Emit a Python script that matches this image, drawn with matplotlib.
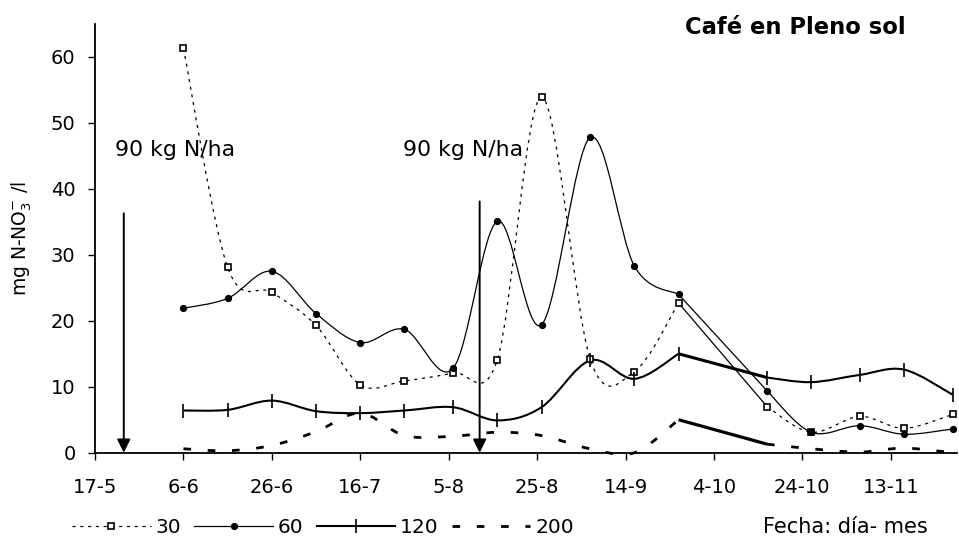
import numpy as np
import matplotlib
matplotlib.use('Agg')
import matplotlib.pyplot as plt
from matplotlib.path import Path
from matplotlib.patches import PathPatch
from matplotlib.lines import Line2D

plt.rcParams['font.family'] = ['DejaVu Sans']
plt.rcParams['lines.scale_dashes'] = False

# ---- data (x = days after 17 May) ----
sample_days = [20, 30, 40, 50, 60, 70, 81, 91, 101, 112, 122, 132, 152, 162, 173, 183, 194]
n30 = [61.3, 28.1, 24.3, 19.3, 10.3, 10.9, 12.1, 14.1, 53.9, 14.2, 12.3, 22.7, 7.0, 3.1, 5.5, 3.7, 5.8]
n60 = [21.9, 23.4, 27.5, 21.1, 16.7, 18.7, 12.8, 35.1, 19.4, 47.8, 28.3, 24.0, 9.4, 3.1, 4.1, 2.8, 3.6]
n120 = [6.4, 6.5, 7.9, 6.3, 6.0, 6.4, 6.9, 4.9, 6.9, 14.0, 11.2, 15.0, 11.4, 10.7, 11.8, 12.6, 8.8]
n200 = [0.6, 0.3, 1.1, 3.2, 6.0, 2.6, 2.5, 3.1, 2.6, 0.6, 0.0, 5.0, 1.3, 0.6, 0.1, 0.7, 0.0]
series_labels = ['30', '60', '120', '200']

tick_days = [0, 20, 40, 60, 80, 100, 120, 140, 160, 180]
tick_labels = ['17-5', '6-6', '26-6', '16-7', '5-8', '25-8', '14-9', '4-10', '24-10', '13-11']

fert_days = [6.5, 87]
fert_arrow_top = [36.3, 38.1]
fert_text = '90 kg N/ha'
fert_text_x = [4.5, 69.7]
fert_text_y = 45.9

# index split: smoothed part A, straight middle, smoothed part B
split_a = 11
split_b = 12


def smooth_path(xs, ys):
    pts = np.column_stack([xs, ys]).astype(float)
    n = len(pts)
    verts = [pts[0]]
    codes = [Path.MOVETO]
    for i in range(n - 1):
        p0 = pts[i - 1] if i > 0 else pts[i]
        p1 = pts[i]
        p2 = pts[i + 1]
        p3 = pts[i + 2] if i + 2 < n else pts[i + 1]
        c1 = p1 + (p2 - p0) / 6.0
        c2 = p2 - (p3 - p1) / 6.0
        verts += [c1, c2, p2]
        codes += [Path.CURVE4] * 3
    return Path(verts, codes)


fig = plt.figure(figsize=(9.59, 5.44), dpi=100)
ax = fig.add_axes([0.0991, 0.1678, 0.8989, 0.7881])


def draw_series(vals, style_ab, style_mid):
    x = np.array(sample_days, float)
    y = np.array(vals, float)
    for sl in (slice(0, split_a + 1), slice(split_b, len(x))):
        p = smooth_path(x[sl], y[sl])
        ax.add_patch(PathPatch(p, fill=False, edgecolor='black', clip_on=False,
                               capstyle='butt', **style_ab))
    ax.plot(x[split_a:split_b + 1], y[split_a:split_b + 1], color='black',
            clip_on=False, solid_capstyle='butt', **style_mid)


dash30 = (0, (2.2, 3.4))
dash200 = (0, (5.5, 12))

draw_series(n30, dict(lw=0.9, linestyle=dash30), dict(lw=0.9, linestyle='-'))
draw_series(n60, dict(lw=0.9, linestyle='-'), dict(lw=0.9, linestyle='-'))
draw_series(n120, dict(lw=1.5, linestyle='-'), dict(lw=2.2, linestyle='-'))
draw_series(n200, dict(lw=2.0, linestyle=dash200), dict(lw=2.3, linestyle='-'))

ax.plot(sample_days, n30, ls='none', marker='s', ms=5, mfc='white', mec='black', mew=1.2,
        zorder=5, clip_on=False)
ax.plot(sample_days, n60, ls='none', marker='o', ms=4.2, mfc='black', mec='black',
        zorder=5, clip_on=False)
ax.plot(sample_days, n120, ls='none', marker='|', ms=10, mec='black', mew=1.2,
        zorder=5, clip_on=False)

# fertilisation arrows
for d, top, tx in zip(fert_days, fert_arrow_top, fert_text_x):
    ax.annotate('', xy=(d, 0), xytext=(d, top),
                arrowprops=dict(arrowstyle='-|>', color='black', lw=1.4,
                                mutation_scale=20, shrinkA=0, shrinkB=0),
                annotation_clip=False)
    ax.text(tx, fert_text_y, fert_text, fontsize=15.8, ha='left', va='center')

ax.set_xlim(0, 195)
ax.set_ylim(0, 65)
ax.set_xticks(tick_days)
ax.set_xticklabels(tick_labels)
ax.set_yticks(range(0, 61, 10))
ax.tick_params(axis='both', labelsize=14, length=5, width=1, direction='out')
ax.tick_params(axis='y', pad=9)
ax.tick_params(axis='x', pad=13)
for s in ('top', 'right'):
    ax.spines[s].set_visible(False)
for s in ('left', 'bottom'):
    ax.spines[s].set_linewidth(1.3)

ax.set_ylabel(r'mg N-NO$_3^{-}$ /l', fontsize=13.5)
ax.yaxis.set_label_coords(-0.071, 0.5)

# legend
handles = [
    Line2D([], [], color='black', lw=0.9, linestyle=dash30, marker='s', ms=5,
           mfc='white', mec='black', mew=1.2),
    Line2D([], [], color='black', lw=0.9, marker='o', ms=4.2),
    Line2D([], [], color='black', lw=1.5, marker='|', ms=10, mew=1.2),
    Line2D([], [], color='black', lw=2.0, linestyle=dash200),
]
fig.legend(handles, series_labels, loc='center left', bbox_to_anchor=(72 / 959, 0.031),
           ncol=4, frameon=False, handlelength=3.9, handletextpad=0.25,
           columnspacing=0.65, borderpad=0, borderaxespad=0, fontsize=14.5, numpoints=1)

fig.text(763 / 959, 0.031, 'Fecha: día- mes', ha='left', va='center', fontsize=15)
fig.text(685 / 959, 1 - 27 / 544, 'Café en Pleno sol', ha='left', va='center',
         fontsize=16.3, fontweight='bold')

fig.savefig('out.png', dpi=100)
